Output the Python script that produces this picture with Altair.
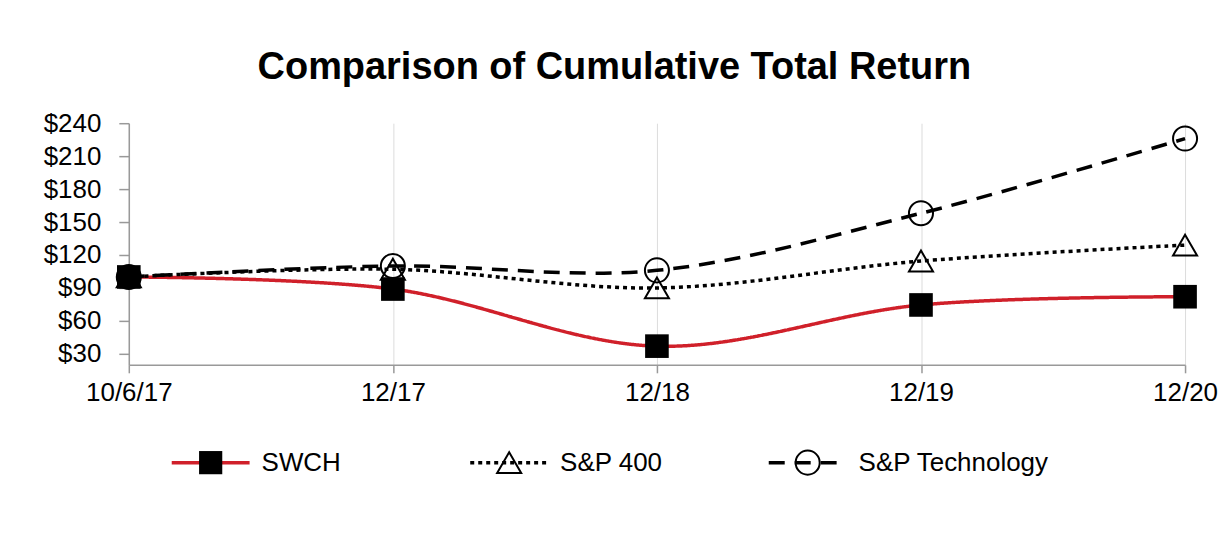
import altair as alt
import pandas as pd

names = ["SWCH", "S&P 400", "S&P Technology"]
dates = ["10/6/17", "12/17", "12/18", "12/19", "12/20"]
swch = [100, 89, 37, 74.5, 82]
sp400 = [100, 107, 90, 114.5, 129]
sptech = [100, 110, 106, 158, 226]
y_ticks = [30, 60, 90, 120, 150, 180, 210, 240]

rows = []
for name, vals in zip(names, [swch, sp400, sptech]):
    for d, v in zip(dates, vals):
        rows.append({"series": name, "date": d, "value": v})
df = pd.DataFrame(rows)
leg = pd.DataFrame({"series": names, "idx": list(range(len(names)))})

FONT = "Liberation Sans"
FS = 26
W, H = 1058, 242

color_scale = alt.Scale(domain=names, range=["#d0202a", "#000000", "#000000"])
dash_scale = alt.Scale(domain=names, range=[[1, 0], [4, 4], [16, 10]])
width_scale = alt.Scale(domain=names, range=[3.5, 3.5, 4])
shape_scale = alt.Scale(domain=names, range=["square", "triangle-up", "circle"])

x_enc = alt.X("date:N", sort=dates, scale=alt.Scale(type="point", padding=0),
              axis=alt.Axis(title=None, grid=True, gridColor="#dcdcdc", gridWidth=1,
                            domainColor="#999999", domainWidth=1.5, tickColor="#999999",
                            tickSize=8, tickWidth=1.5, labelFontSize=FS, labelFont=FONT,
                            labelColor="#000", labelPadding=7, labelAngle=0))
y_enc = alt.Y("value:Q", scale=alt.Scale(domain=[20, 240], nice=False, zero=False),
              axis=alt.Axis(title=None, values=y_ticks, grid=False, domainColor="#999999",
                            domainWidth=1.5, tickColor="#999999", tickSize=10, tickWidth=1.5,
                            labelFontSize=FS, labelFont=FONT, labelColor="#000",
                            labelPadding=18, labelExpr="'$' + datum.value"))

base = alt.Chart(df)
lines = base.mark_line(interpolate="catmull-rom").encode(
    x=x_enc, y=y_enc,
    color=alt.Color("series:N", scale=color_scale, legend=None),
    strokeDash=alt.StrokeDash("series:N", scale=dash_scale, legend=None),
    strokeWidth=alt.StrokeWidth("series:N", scale=width_scale, legend=None),
)
hollow = base.transform_filter(alt.datum.series != "SWCH").mark_point(
    filled=False, size=580, strokeWidth=2, color="#000", opacity=1).encode(
    x=x_enc, y=y_enc,
    shape=alt.Shape("series:N", scale=shape_scale, legend=None),
)
squares = base.transform_filter(alt.datum.series == "SWCH").mark_point(
    filled=True, shape="square", size=560, color="#000", opacity=1).encode(
    x=x_enc, y=y_enc,
)
main = alt.layer(lines, hollow, squares).properties(width=W, height=H)

lx = alt.X("idx:Q", scale=alt.Scale(domain=[0, 2], range=[82, 680]), axis=None)
lbase = alt.Chart(leg)
lrule = lbase.mark_rule(xOffset=-39, x2Offset=39).encode(
    x=lx, x2=alt.X2("idx:Q"), y=alt.value(20),
    color=alt.Color("series:N", scale=color_scale, legend=None),
    strokeDash=alt.StrokeDash("series:N", scale=dash_scale, legend=None),
    strokeWidth=alt.StrokeWidth("series:N", scale=width_scale, legend=None),
)
lhollow = lbase.transform_filter(alt.datum.series != "SWCH").mark_point(
    filled=False, size=580, strokeWidth=2, color="#000", opacity=1).encode(
    x=lx, y=alt.value(20),
    shape=alt.Shape("series:N", scale=shape_scale, legend=None),
)
lsquare = lbase.transform_filter(alt.datum.series == "SWCH").mark_point(
    filled=True, shape="square", size=540, color="#000", opacity=1).encode(
    x=lx, y=alt.value(20),
)
ltext = lbase.mark_text(align="left", baseline="middle", dx=51, fontSize=FS,
                        font=FONT, color="#000").encode(
    x=lx, y=alt.value(20), text="series:N",
)
legend = alt.layer(lrule, lhollow, lsquare, ltext).properties(width=W, height=40)

chart = alt.vconcat(main, legend, spacing=37).properties(
    title=alt.TitleParams("Comparison of Cumulative Total Return", fontSize=38,
                          font=FONT, fontWeight="bold", color="#000",
                          anchor="middle", offset=23, dx=-16),
    padding={"left": 35, "top": 41, "right": 0, "bottom": 5},
).configure(background="white", view=alt.ViewConfig(strokeWidth=0, stroke="transparent"))

chart.save("out.html", embed_options={"renderer": "svg", "actions": False})
